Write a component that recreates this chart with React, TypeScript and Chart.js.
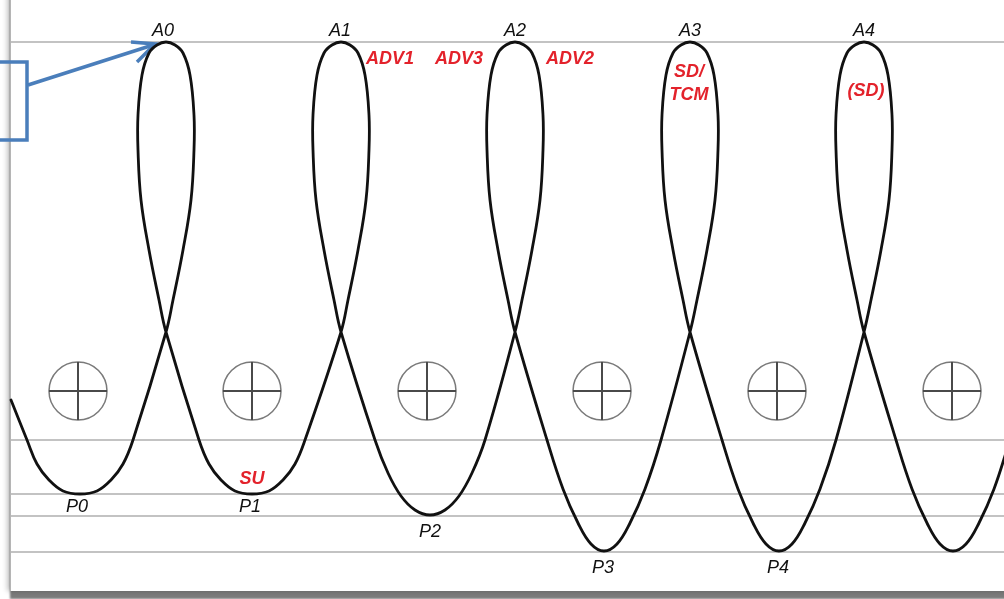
import React, { useEffect, useRef } from 'react';
import { Chart, registerables } from 'chart.js';

Chart.register(...registerables);

// ---- Orbit trajectory, x along track, y = depth (down)
const orbitX = [
  11, 27, 37, 49, 63, 80, 97, 111, 123, 133,
  166, 173, 183, 191, 194, 194, 190, 183, 175, 166, 157, 149, 142, 138, 138, 141, 149, 159, 166,
  199, 209, 221, 235, 252, 269, 283, 295, 305,
  341, 348, 358, 366, 369, 369, 365, 358, 350, 341, 332, 324, 317, 313, 313, 316, 324, 334, 341,
  375, 388, 401, 415, 430, 445, 459, 472, 485,
  515, 522, 532, 540, 543, 543, 539, 532, 524, 515, 506, 498, 491, 487, 487, 490, 498, 508, 515,
  547, 563, 578, 591, 604, 617, 630, 645, 661,
  690, 697, 707, 715, 718, 718, 714, 707, 699, 690, 681, 673, 666, 662, 662, 665, 673, 683, 690,
  722, 738, 753, 766, 779, 792, 805, 820, 836,
  864, 871, 881, 889, 892, 892, 888, 881, 873, 864, 855, 847, 840, 836, 836, 839, 847, 857, 864,
  896, 912, 927, 940, 953, 966, 979, 994, 1010, 1030,
];
const orbitY = [
  400, 440, 464, 480, 491, 494, 491, 480, 464, 440,
  332, 300, 250, 200, 150, 115, 75, 53, 45, 42, 45, 53, 75, 115, 150, 200, 250, 300, 332,
  440, 464, 480, 491, 494, 491, 480, 464, 440,
  332, 300, 250, 200, 150, 115, 75, 53, 45, 42, 45, 53, 75, 115, 150, 200, 250, 300, 332,
  440, 473, 496, 510, 515, 510, 496, 473, 440,
  332, 300, 250, 200, 150, 115, 75, 53, 45, 42, 45, 53, 75, 115, 150, 200, 250, 300, 332,
  440, 489, 523, 544, 551, 544, 523, 489, 440,
  332, 300, 250, 200, 150, 115, 75, 53, 45, 42, 45, 53, 75, 115, 150, 200, 250, 300, 332,
  440, 489, 523, 544, 551, 544, 523, 489, 440,
  332, 300, 250, 200, 150, 115, 75, 53, 45, 42, 45, 53, 75, 115, 150, 200, 250, 300, 332,
  440, 489, 523, 544, 551, 544, 523, 489, 440, 380,
];

// ---- Reference levels (apoapsis line and periapsis lines)
const levelY = [42, 440, 494, 516, 552];
const levelStartX = 11;
const levelEndX = 1004;

// ---- Earth symbols
const earthX = [78, 252, 427, 602, 777, 952];
const earthY = 391;

// ---- Labels
const apoLabels = ['A0', 'A1', 'A2', 'A3', 'A4'];
const apoLabelX = [163, 340, 515, 690, 864];
const apoLabelY = 29;

const periLabels = ['P0', 'P1', 'P2', 'P3', 'P4'];
const periLabelX = [77, 250, 430, 603, 778];
const periLabelY = [505, 505, 530, 566, 566];

const eventLabels = ['ADV1', 'ADV3', 'ADV2', 'SD/', 'TCM', '(SD)', 'SU'];
const eventLabelX = [390, 459, 570, 689, 689, 866, 252];
const eventLabelY = [57, 57, 57, 70, 93, 89, 477];

// ---- Callout box and arrow
const boxX = [-20, 27, 27, -20];
const boxY = [62, 62, 140, 140];
const arrowX = [28, 153];
const arrowY = [85, 45];
const arrowHeadX = [131, 155, 137];
const arrowHeadY = [42, 44, 62];

const pts = (xs: number[], ys: number[]) => xs.map((x, i) => ({ x, y: ys[i] }));

const labelPlugin = {
  id: 'orbitLabels',
  afterDatasetsDraw(chart: any) {
    const { ctx, scales } = chart;
    const sx = scales.x;
    const sy = scales.y;
    ctx.save();
    ctx.textAlign = 'center';
    ctx.textBaseline = 'alphabetic';
    const off = 6.5;
    ctx.font = 'italic 18px "Liberation Sans", Arial, sans-serif';
    ctx.fillStyle = '#111111';
    apoLabels.forEach((t, i) => {
      ctx.fillText(t, sx.getPixelForValue(apoLabelX[i]), sy.getPixelForValue(apoLabelY) + off);
    });
    periLabels.forEach((t, i) => {
      ctx.fillText(t, sx.getPixelForValue(periLabelX[i]), sy.getPixelForValue(periLabelY[i]) + off);
    });
    ctx.font = 'italic bold 18px "Liberation Sans", Arial, sans-serif';
    ctx.fillStyle = '#e3222b';
    eventLabels.forEach((t, i) => {
      ctx.fillText(t, sx.getPixelForValue(eventLabelX[i]), sy.getPixelForValue(eventLabelY[i]) + off);
    });
    ctx.restore();
  },
};

export default function App() {
  const ref = useRef<HTMLCanvasElement>(null);

  useEffect(() => {
    document.body.style.margin = '0';
    const canvas = ref.current!;
    const line = (data: any[], color: string, width: number, tension = 0) => ({
      data,
      showLine: true,
      borderColor: color,
      borderWidth: width,
      pointRadius: 0,
      fill: false,
      tension,
    });
    const chart = new Chart(canvas, {
      type: 'scatter',
      data: {
        datasets: [
          { ...line(pts(orbitX, orbitY), '#111111', 2.8, 0.4), borderCapStyle: 'round', borderJoinStyle: 'round' } as any,
          line(pts(boxX, boxY), '#4a7ebb', 3.5),
          line(pts(arrowX, arrowY), '#4a7ebb', 3.5),
          { ...line(pts(arrowHeadX, arrowHeadY), '#4a7ebb', 3.5), borderJoinStyle: 'miter' } as any,
          {
            data: earthX.map((x) => ({ x, y: earthY })),
            showLine: false,
            pointStyle: 'cross',
            pointRadius: 29,
            borderColor: '#4a4a4a',
            borderWidth: 2,
            backgroundColor: 'rgba(0,0,0,0)',
          },
          {
            data: earthX.map((x) => ({ x, y: earthY })),
            showLine: false,
            pointStyle: 'circle',
            pointRadius: 29,
            borderColor: '#7a7a7a',
            borderWidth: 1.5,
            backgroundColor: 'rgba(0,0,0,0)',
          },
          ...levelY.map((ly) => line([{ x: levelStartX, y: ly }, { x: levelEndX, y: ly }], '#c3c3c3', 2)),
        ],
      },
      options: {
        responsive: false,
        animation: false,
        devicePixelRatio: 1,
        events: [],
        layout: { padding: 0, autoPadding: false },
        plugins: { legend: { display: false }, tooltip: { enabled: false } },
        scales: {
          x: { type: 'linear', display: false, min: 0, max: 1004 },
          y: { type: 'linear', display: false, min: 0, max: 599, reverse: true },
        },
      },
      plugins: [labelPlugin],
    } as any);
    return () => chart.destroy();
  }, []);

  return (
    <div style={{ position: 'relative', width: 1004, height: 599, overflow: 'hidden', background: '#ffffff' }}>
      <div
        style={{
          position: 'absolute',
          left: 10,
          top: -20,
          width: 1030,
          height: 611,
          background: '#ffffff',
          borderLeft: '1px solid #b5b5b5',
          boxShadow: '-3px 0 5px rgba(0,0,0,0.22), 0 8px 2px #7b7b7b',
        }}
      />
      <canvas ref={ref} width={1004} height={599} style={{ position: 'absolute', left: 0, top: 0 }} />
    </div>
  );
}
